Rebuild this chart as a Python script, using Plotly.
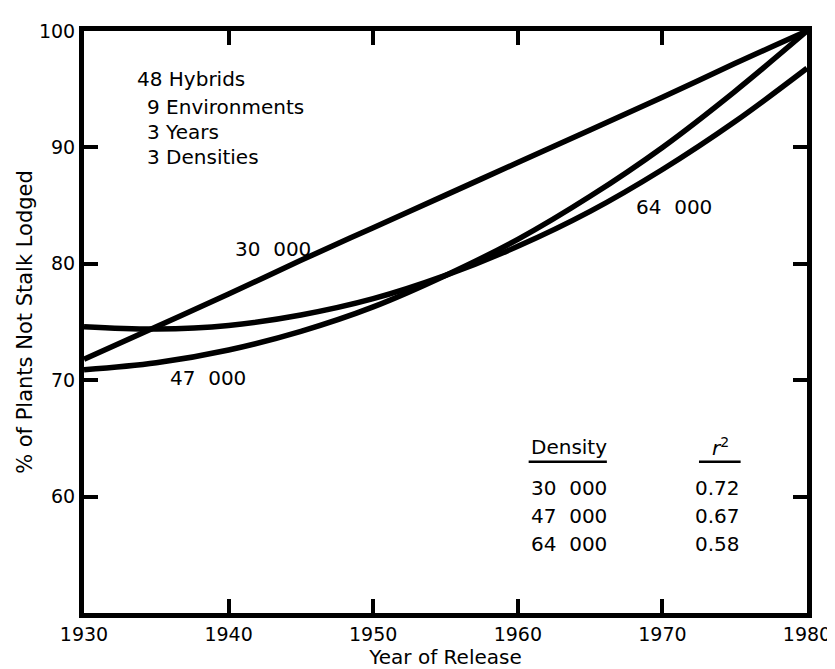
import plotly.graph_objects as go

# Data
years = [1930, 1935, 1940, 1945, 1950, 1955, 1960, 1965, 1970, 1975, 1980]
d30000 = [71.8, 74.6, 77.4, 80.3, 83.1, 85.9, 88.7, 91.5, 94.3, 97.2, 100.0]
d47000 = [70.9, 71.5, 72.6, 74.2, 76.3, 79.0, 82.1, 85.8, 90.0, 94.8, 100.0]
d64000 = [74.6, 74.4, 74.7, 75.6, 77.0, 79.0, 81.5, 84.5, 88.1, 92.2, 96.8]

densities = ["30\u00a0\u00a0000", "47\u00a0\u00a0000", "64\u00a0\u00a0000"]
r2_values = ["0.72", "0.67", "0.58"]
x_ticks = [1930, 1940, 1950, 1960, 1970, 1980]
y_ticks = [60, 70, 80, 90, 100]
inset_lines = ["48 Hybrids", "9 Environments", "3 Years", "3 Densities"]

FONT = "DejaVu Sans, Liberation Sans, Arial, sans-serif"
LW = 5.5

fig = go.Figure()
for ys in (d30000, d47000, d64000):
    fig.add_trace(go.Scatter(x=years, y=ys, mode="lines", line=dict(color="black", width=LW, shape="spline"),
                             cliponaxis=False, showlegend=False, hoverinfo="skip"))

ann = []
def txt(x, y, s, xa="center", size=20):
    ann.append(dict(x=x, y=y, xref="x", yref="y", text=s, showarrow=False, xanchor=xa, yanchor="middle",
                    font=dict(family=FONT, size=size, color="black")))

inset_pos = [(1933.56, 95.87), (1934.25, 93.5), (1934.25, 91.3), (1934.25, 89.2)]
for (x, y), s in zip(inset_pos, inset_lines):
    txt(x, y, s, xa="left")

txt(1943.1, 81.3, densities[0])
txt(1938.6, 70.15, densities[1])
txt(1970.8, 84.9, densities[2])

txt(1960.75, 64.25, "Density", xa="left")
txt(1974.04, 64.25, "<i>r</i><sup>2</sup>")
row_y = [60.7, 58.35, 55.9]
for d, r, y in zip(densities, r2_values, row_y):
    txt(1960.75, y, d, xa="left")
    txt(1975.48, y, r, xa="right")

shapes = [
    dict(type="line", xref="x", yref="y", x0=1960.75, x1=1966.16, y0=63.0, y1=63.0, line=dict(color="black", width=2.5)),
    dict(type="line", xref="x", yref="y", x0=1972.53, x1=1975.41, y0=63.0, y1=63.0, line=dict(color="black", width=2.5)),
]

axis_common = dict(showline=True, linecolor="black", linewidth=5, mirror="ticks", ticks="inside",
                   ticklen=14, tickwidth=4, tickcolor="black", showgrid=False, zeroline=False,
                   tickfont=dict(family=FONT, size=19, color="black"))

fig.update_layout(
    width=835, height=669,
    margin=dict(l=76, r=33, t=16, b=64),
    paper_bgcolor="white", plot_bgcolor="white",
    xaxis=dict(range=[1930, 1980], tickvals=x_ticks, ticktext=[str(v) for v in x_ticks],
               title=dict(text="Year of Release", font=dict(family=FONT, size=20, color="black"), standoff=0),
               **axis_common),
    yaxis=dict(range=[50, 100], tickvals=y_ticks, ticktext=[str(v) for v in y_ticks],
               title=dict(text="% of Plants Not Stalk Lodged", font=dict(family=FONT, size=21, color="black"), standoff=2),
               **axis_common),
    annotations=ann, shapes=shapes,
)

fig.write_html("out.html")
